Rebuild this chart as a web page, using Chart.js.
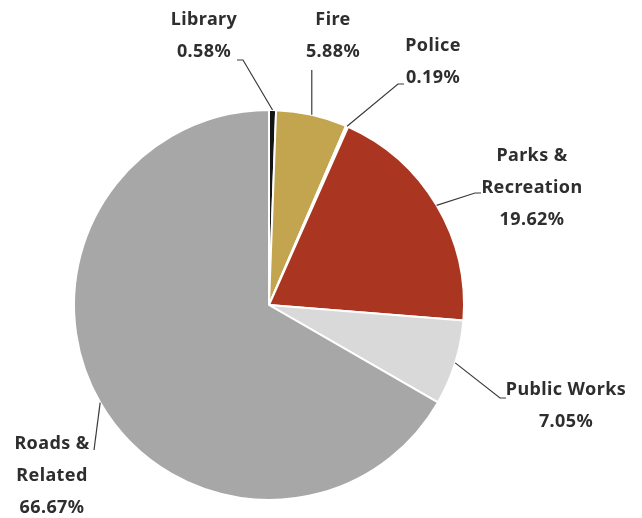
<!DOCTYPE html>
<html>
<head>
<meta charset="utf-8">
<script src="https://cdn.jsdelivr.net/npm/chart.js@4/dist/chart.umd.min.js"></script>
<style>
html,body{margin:0;padding:0;background:#fff;}
#wrap{width:642px;height:518px;position:relative;}
</style>
</head>
<body>
<div id="wrap"><canvas id="c" width="642" height="518"></canvas></div>
<script>
const categories = ["Library", "Fire", "Police", "Parks & Recreation", "Public Works", "Roads & Related"];
const shares = [0.58, 5.88, 0.19, 19.62, 7.05, 66.67];
const labelLines = [
  ["Library", "0.58%"],
  ["Fire", "5.88%"],
  ["Police", "0.19%"],
  ["Parks &", "Recreation", "19.62%"],
  ["Public Works", "7.05%"],
  ["Roads &", "Related", "66.67%"]
];
const colors = ["#151515", "#c3a54f", "#ffffff", "#aa3520", "#d9d9d9", "#a7a7a7"];

// label layout: text centre x, first line y, elbow point, end point of leader
const layout = [
  {tx: 204, ty: 20, elbow: [243, 60], end: [237, 60]},
  {tx: 333, ty: 20, elbow: null, end: [309, 70], vertical: true},
  {tx: 433, ty: 46, elbow: [398, 84], end: [404, 84]},
  {tx: 532, ty: 156, elbow: [475, 193], end: [481, 193]},
  {tx: 566, ty: 390, elbow: [500, 398], end: [506, 398]},
  {tx: 52, ty: 444, elbow: null, end: [94, 450]}
];

const labelPlugin = {
  id: 'pieLabels',
  afterDraw(chart) {
    const ctx = chart.ctx;
    const meta = chart.getDatasetMeta(0);
    ctx.save();
    meta.data.forEach((arc, i) => {
      const L = layout[i];
      const mid = (arc.startAngle + arc.endAngle) / 2;
      const sx = arc.x + Math.cos(mid) * arc.outerRadius;
      const sy = arc.y + Math.sin(mid) * arc.outerRadius;
      ctx.strokeStyle = '#3a3a3a';
      ctx.lineWidth = 1.2;
      ctx.beginPath();
      ctx.moveTo(sx, sy);
      if (L.vertical) {
        ctx.lineTo(sx, L.end[1]);
      } else {
        if (L.elbow) ctx.lineTo(L.elbow[0], L.elbow[1]);
        ctx.lineTo(L.end[0], L.end[1]);
      }
      ctx.stroke();
      ctx.fillStyle = '#2e2e2e';
      ctx.font = 'bold 18px "Noto Sans", "DejaVu Sans", sans-serif';
      ctx.letterSpacing = '0.4px';
      ctx.textAlign = 'center';
      ctx.textBaseline = 'middle';
      labelLines[i].forEach((t, k) => {
        ctx.fillText(t, L.tx, L.ty + k * 32);
      });
    });
    ctx.restore();
  }
};

new Chart(document.getElementById('c'), {
  type: 'pie',
  data: {
    labels: categories,
    datasets: [{
      data: shares,
      backgroundColor: colors,
      borderColor: '#ffffff',
      borderWidth: 2
    }]
  },
  options: {
    responsive: false,
    animation: false,
    layout: {padding: {left: 73, right: 177, top: 109, bottom: 17}},
    plugins: {legend: {display: false}, tooltip: {enabled: false}}
  },
  plugins: [labelPlugin]
});
</script>
</body>
</html>
